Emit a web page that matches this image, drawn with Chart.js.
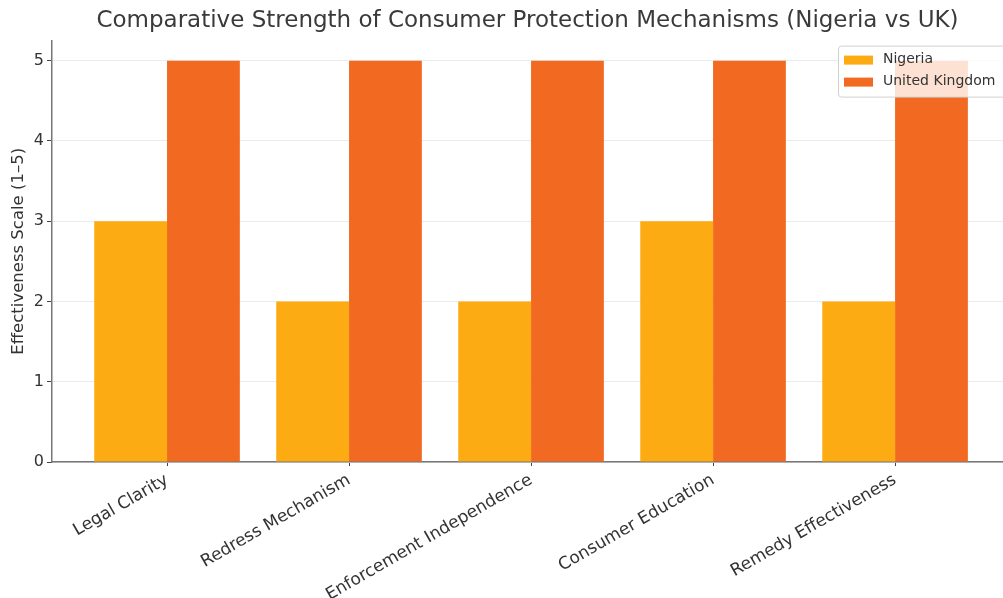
<!DOCTYPE html>
<html>
<head>
<meta charset="utf-8">
<script src="https://cdn.jsdelivr.net/npm/chart.js@4"></script>
<style>
  html, body { margin: 0; padding: 0; background: #fff; }
  canvas { display: block; }
</style>
</head>
<body>
<canvas id="myChart" width="1003" height="598"></canvas>
<script>
const categories = ['Legal Clarity', 'Redress Mechanism', 'Enforcement Independence', 'Consumer Education', 'Remedy Effectiveness']
const nigeria = [3, 2, 2, 3, 2]
const uk = [5, 5, 5, 5, 5]
const yTicks = [0, 1, 2, 3, 4, 5]

const font = 'DejaVu Sans'

// legend drawn inside the plot, top right, like the matplotlib box
const boxLegend = {
    id: 'boxLegend',
    afterDatasetsDraw(chart) {
        const ctx = chart.ctx
        const area = chart.chartArea
        const x = area.right - 165, y = area.top + 5
        ctx.save()
        ctx.fillStyle = 'rgba(255,255,255,0.8)'
        ctx.strokeStyle = '#d0d0d0'
        ctx.lineWidth = 1
        ctx.beginPath()
        ctx.roundRect(x + 0.5, y + 0.5, 180, 51, 3)
        ctx.fill()
        ctx.stroke()
        ctx.font = '14px "' + font + '"'
        ctx.textBaseline = 'middle'
        chart.data.datasets.forEach((ds, i) => {
            const cy = y + 14 + i * 22
            ctx.fillStyle = ds.backgroundColor
            ctx.fillRect(x + 6, cy - 4, 29, 9)
            ctx.fillStyle = '#333'
            ctx.fillText(ds.label, x + 45, cy)
        })
        ctx.restore()
    }
}

const bar = {
    type: 'bar',
    data: {
        datasets: [
            {
                label: 'Nigeria',
                data: nigeria.map((v, i) => ({x: i, y: v})),
                backgroundColor: '#fdab12',
            },
            {
                label: 'United Kingdom',
                data: uk.map((v, i) => ({x: i, y: v})),
                backgroundColor: '#f26922',
            }
        ]
    },
    options: {
        responsive: false,
        animation: false,
        layout: { padding: 0 },
        categoryPercentage: 0.8,
        barPercentage: 1.0,
        plugins: {
            legend: { display: false },
            tooltip: { enabled: false },
            title: {
                display: true,
                fullSize: false,
                text: 'Comparative Strength of Consumer Protection Mechanisms (Nigeria vs UK)',
                color: '#3a3a3a',
                font: { family: font, size: 23, weight: 'normal' },
                padding: { top: 7, bottom: 6 }
            }
        },
        scales: {
            x: {
                type: 'linear',
                offset: false,
                min: -0.632,
                max: 4.593,
                afterBuildTicks: s => { s.ticks = categories.map((c, i) => ({value: i})) },
                afterFit: s => { s.height = 136 },
                ticks: {
                    callback: v => categories[v],
                    minRotation: 30,
                    maxRotation: 30,
                    autoSkip: false,
                    color: '#333',
                    padding: 4,
                    font: { family: font, size: 17 }
                },
                grid: { offset: false, color: 'transparent', drawOnChartArea: false, tickColor: '#444', tickLength: 4 },
                border: { color: '#777', width: 1.5 }
            },
            y: {
                min: 0,
                max: 5.25,
                afterBuildTicks: s => { s.ticks = yTicks.map(v => ({value: v})) },
                afterFit: s => { s.width = 52 },
                ticks: {
                    color: '#333',
                    padding: 3,
                    font: { family: font, size: 16 }
                },
                grid: { color: '#ebebeb', tickColor: '#444', tickLength: 5 },
                border: { color: '#777', width: 1.5 },
                title: {
                    display: true,
                    text: 'Effectiveness Scale (1–5)',
                    color: '#333',
                    font: { family: font, size: 16.5 },
                    padding: { top: 9, bottom: 0 }
                }
            }
        }
    },
    plugins: [boxLegend]
}

new Chart(
    document.getElementById('myChart'), bar
);
</script>
</body>
</html>
